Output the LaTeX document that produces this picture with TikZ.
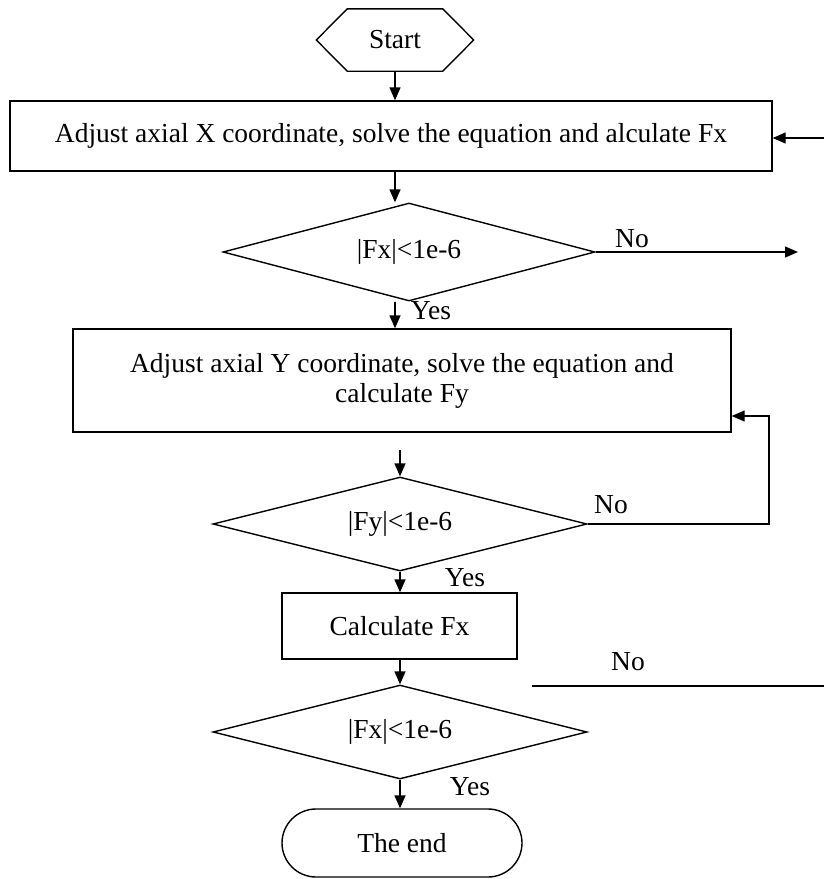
\documentclass[tikz,border=0pt]{standalone}
\usepackage{fontspec}
\setmainfont{Liberation Serif}
\usetikzlibrary{arrows.meta,shapes.geometric,shapes.misc,calc}
\begin{document}
\begin{tikzpicture}[x=1pt,y=-1pt,
  line width=1.4pt,
  every node/.style={font=\fontsize{27.5}{30}\selectfont, inner sep=0pt},
  box/.style={draw, rectangle, align=center},
  dia/.style={draw, diamond, aspect=3.8},
  term/.style={draw, rounded rectangle},
  arr/.style={-{Triangle[length=13pt,width=11pt]}},
]
\useasboundingbox (0,0) rectangle (824,879);

% nodes
\node (start) at (395,40) [minimum width=156pt, minimum height=61pt] {Start};
\draw (start.west) -- ($(start.north west)+(31,0)$) -- ($(start.north east)+(-31,0)$)
      -- (start.east) -- ($(start.south east)+(-31,0)$) -- ($(start.south west)+(31,0)$) -- cycle;

\node[box, minimum width=762pt, minimum height=70pt] (box1) at (391,136)
  {Adjust axial X coordinate, solve the equation and alculate Fx};
\node[dia, minimum width=372pt, minimum height=98pt] (d1) at (409,252) {|Fx|<1e-6};
\node[box, minimum width=658pt, minimum height=103pt] (box2) at (402,380.5)
  {Adjust axial Y coordinate, solve the equation and\\calculate Fy};
\node[dia, minimum width=374pt, minimum height=94pt] (d2) at (400,524) {|Fy|<1e-6};
\node[box, minimum width=235pt, minimum height=66pt] (box3) at (399.5,626) {Calculate Fx};
\node[dia, minimum width=374pt, minimum height=94pt] (d3) at (400,732) {|Fx|<1e-6};
\node[term, minimum width=240pt, minimum height=68pt] (end) at (402,843) {The end};

% labels
\node (no1) at (632,239) {No};
\node (yes1) at (431,311) {Yes};
\node (no2) at (611,505) {No};
\node (yes2) at (465,578) {Yes};
\node (no3) at (628,662) {No};
\node (yes3) at (470,787) {Yes};

% free coordinates
\coordinate (in1) at (824,138);
\coordinate (n1) at (798,252);
\coordinate (a2) at (400,450);
\coordinate (lp) at (769,416);
\coordinate (l3a) at (532,686);
\coordinate (l3b) at (824,686);

% connectors
\draw[arr] (start.south) -- (start.south |- box1.north);
\draw[arr] (in1) -- (in1 -| box1.east);
\draw[arr] (start.south |- box1.south) -- (start.south |- d1.north);
\draw[arr] (d1.east) -- (d1.east -| n1);
\draw[arr] (start.south |- d1.south) -- (start.south |- box2.north);
\draw[arr] (a2) -- (d2.north);
\draw[arr] (d2.east) -| (lp) -- (lp -| box2.east);
\draw[arr] (d2.south) -- (d2.south |- box3.north);
\draw[arr] (d3.north |- box3.south) -- (d3.north);
\draw (l3a) -- (l3b);
\draw[arr] (d3.south) -- (d3.south |- end.north);
\end{tikzpicture}
\end{document}
